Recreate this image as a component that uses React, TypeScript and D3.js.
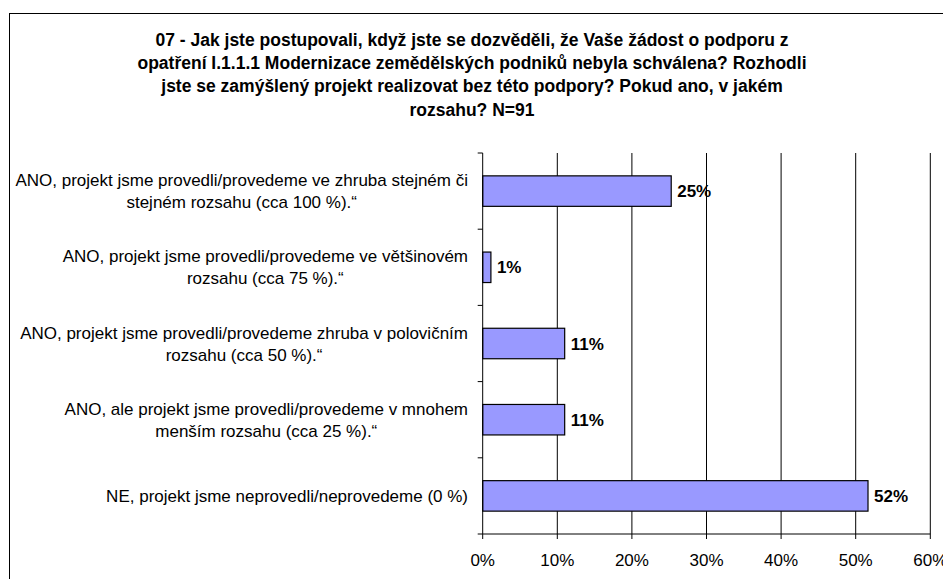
import React, { useEffect, useRef } from "react";
import * as d3 from "d3";

const titleLines = [
  "07 - Jak jste postupovali, když jste se dozvěděli, že Vaše žádost o podporu z",
  "opatření I.1.1.1 Modernizace zemědělských podniků nebyla schválena? Rozhodli",
  "jste se zamýšlený projekt realizovat bez této podpory? Pokud ano, v jakém",
  "rozsahu? N=91",
];

const categoryLines: string[][] = [
  ["ANO, projekt jsme provedli/provedeme ve zhruba stejném či", "stejném rozsahu (cca 100 %).“"],
  ["ANO, projekt jsme provedli/provedeme ve většinovém", "rozsahu (cca 75 %).“"],
  ["ANO, projekt jsme provedli/provedeme zhruba v polovičním", "rozsahu (cca 50 %).“"],
  ["ANO, ale projekt jsme provedli/provedeme v mnohem", "menším rozsahu (cca 25 %).“"],
  ["NE, projekt jsme neprovedli/neprovedeme (0 %)"],
];

const values = [25.27, 1.1, 10.99, 10.99, 51.65];
const xTicks = [0, 10, 20, 30, 40, 50, 60];

const W = 943;
const H = 579;
const FONT = "'Liberation Sans', Arial, sans-serif";

export default function App() {
  const ref = useRef<SVGSVGElement | null>(null);

  useEffect(() => {
    const svg = d3.select(ref.current);
    svg.selectAll("*").remove();

    const left = 482.7;
    const right = 930.3;
    const top = 153;
    const bottom = 534;

    const x = d3.scaleLinear().domain([0, 60]).range([left, right]);
    const ids = categoryLines.map((_, i) => String(i));
    const y = d3.scaleBand<string>().domain(ids).range([top, bottom]).paddingInner(0.6).paddingOuter(0.3);
    const step = y.step();

    // frame
    svg.append("rect").attr("x", 9.5).attr("y", 13.5).attr("width", W + 20).attr("height", H + 20)
      .attr("fill", "white").attr("stroke", "#000").attr("stroke-width", 1);

    // title
    const t = svg.append("text").attr("font-family", FONT).attr("font-weight", "bold")
      .attr("font-size", 17.5).attr("text-anchor", "middle").attr("fill", "#000");
    titleLines.forEach((line, i) => {
      t.append("tspan").attr("x", 472).attr("y", 46 + i * 23.2).text(line);
    });

    // gridlines
    svg.append("g").selectAll("line").data(xTicks.slice(1)).join("line")
      .attr("x1", (d) => x(d)).attr("x2", (d) => x(d))
      .attr("y1", top).attr("y2", bottom)
      .attr("stroke", "#000").attr("stroke-width", 1);

    // bars
    svg.append("g").selectAll("rect").data(values).join("rect")
      .attr("x", x(0)).attr("y", (_, i) => y(String(i))!)
      .attr("width", (d) => x(d) - x(0)).attr("height", y.bandwidth())
      .attr("fill", "#9999FF").attr("stroke", "#000").attr("stroke-width", 1.2);

    // value labels
    svg.append("g").selectAll("text").data(values).join("text")
      .attr("x", (d) => x(d) + 6).attr("y", (_, i) => y(String(i))! + y.bandwidth() / 2)
      .attr("dy", "0.36em").attr("font-family", FONT).attr("font-weight", "bold")
      .attr("font-size", 17).attr("fill", "#000")
      .text((d) => `${Math.round(d)}%`);

    // y axis
    svg.append("line").attr("x1", left).attr("x2", left).attr("y1", top).attr("y2", bottom)
      .attr("stroke", "#000").attr("stroke-width", 1);
    const yTicks = d3.range(categoryLines.length + 1).map((i) => top + i * step);
    svg.append("g").selectAll("line").data(yTicks).join("line")
      .attr("x1", left - 5).attr("x2", left).attr("y1", (d) => d).attr("y2", (d) => d)
      .attr("stroke", "#000");

    // x axis
    svg.append("line").attr("x1", left).attr("x2", right).attr("y1", bottom).attr("y2", bottom)
      .attr("stroke", "#000").attr("stroke-width", 1);
    svg.append("g").selectAll("line").data(xTicks).join("line")
      .attr("x1", (d) => x(d)).attr("x2", (d) => x(d)).attr("y1", bottom).attr("y2", bottom + 5)
      .attr("stroke", "#000");
    svg.append("g").selectAll("text").data(xTicks).join("text")
      .attr("x", (d) => x(d)).attr("y", bottom + 26 + 6).attr("text-anchor", "middle")
      .attr("font-family", FONT).attr("font-size", 17).attr("fill", "#000")
      .text((d) => `${d}%`);

    // category labels
    const labelRight = 468;
    const lh = 22;
    categoryLines.forEach((lines, i) => {
      const cy = y(String(i))! + y.bandwidth() / 2;
      const g = svg.append("text").attr("font-family", FONT).attr("font-size", 17)
        .attr("fill", "#000").attr("text-anchor", "middle");
      const spans = lines.map((line, j) =>
        g.append("tspan").attr("y", cy + (j - (lines.length - 1) / 2) * lh).attr("dy", "0.36em").text(line)
      );
      const maxW = d3.max(spans, (s) => (s.node() as SVGTSpanElement).getComputedTextLength()) || 0;
      spans.forEach((s) => s.attr("x", labelRight - maxW / 2));
    });
  }, []);

  return (
    <svg ref={ref} width={W} height={H}
      style={{ position: "absolute", left: 0, top: 0, display: "block", background: "white" }} />
  );
}
